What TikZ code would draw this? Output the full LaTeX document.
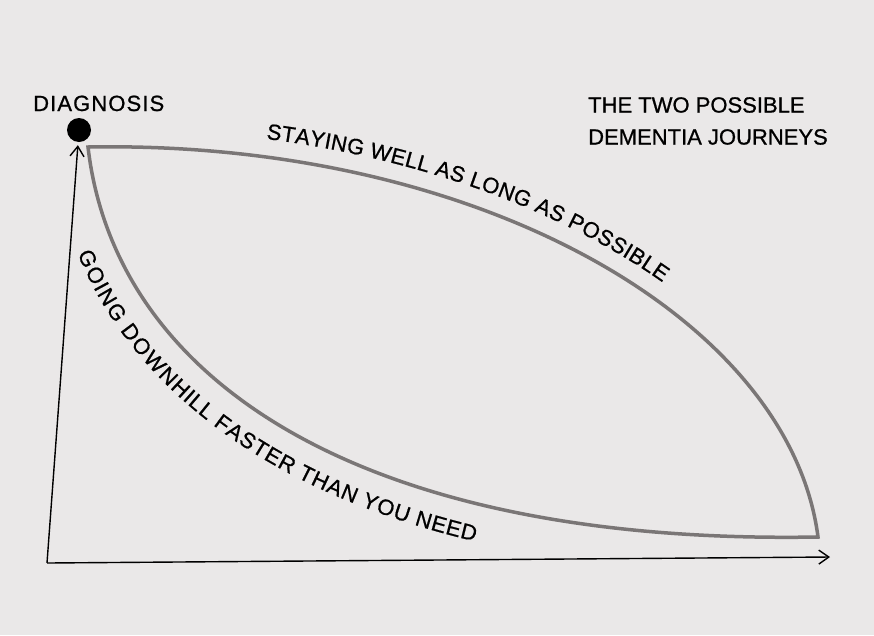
\documentclass[tikz,border=0pt]{standalone}
\usepackage{fontspec}
\setmainfont{Liberation Sans}
\newfontfamily\letterfont{Liberation Sans}[FakeBold=0.8]
\usetikzlibrary{arrows.meta,decorations.text}
\definecolor{paper}{RGB}{234,232,232}
\definecolor{pathgrey}{RGB}{122,118,118}
\newcommand{\lettering}{\letterfont\fontsize{22}{32}\selectfont}

\begin{document}
\begin{tikzpicture}[x=1pt,y=-1pt,
  journey/.style={draw=pathgrey,line width=3.5pt},
  axisline/.style={line width=1.4pt,-{Straight Barb[length=10pt,width=14pt,line width=1.4pt]}}]
\fill[paper] (0,0) rectangle (874,635);
\useasboundingbox (0,0) rectangle (874,635);
% labels
\node[circle,fill=black,inner sep=0pt,minimum size=24pt] (dot) at (79,130) {};
\node[anchor=base west,inner sep=0pt,font=\lettering\addfontfeature{LetterSpace=5}] (diagnosis) at (33,111) {DIAGNOSIS};
\node[anchor=north west,inner sep=0pt,align=left,font=\lettering] (title) at (588,97) {THE TWO POSSIBLE\\DEMENTIA JOURNEYS};
% axes
\coordinate (origin) at (47,563);
\coordinate (xtip) at (830,557);
\draw[axisline,shorten >=3pt] (origin) -- (dot);
\draw[axisline] (origin) -- (xtip);
% the two journeys
\coordinate (start) at (88,147);
\coordinate (finish) at (818,537);
\draw[journey,line join=miter] (start) .. controls (480,140) and (790,320) .. (finish) .. controls (360,545) and (115,380) .. (start) -- cycle;
\path[decorate,decoration={text along path,raise=18pt,text align={left indent=176pt},
  text={|\lettering|STAYING WELL AS LONG AS POSSIBLE}}] (start) .. controls (480,140) and (790,320) .. (finish);
\path[decorate,decoration={text along path,raise=-37pt,text align={left indent=95pt},
  text={|\lettering|GOING DOWNHILL FASTER THAN YOU NEED}}] (start) .. controls (115,380) and (360,545) .. (finish);
\end{tikzpicture}
\end{document}
